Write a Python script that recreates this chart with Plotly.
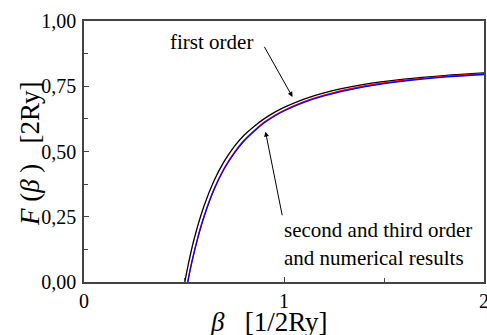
import plotly.graph_objects as go

# values
beta_first = [0.504, 0.52, 0.55, 0.60, 0.65, 0.70, 0.75, 0.80, 0.85, 0.90, 0.95, 1.00, 1.10, 1.20, 1.40, 1.60, 1.80, 2.00]
f_first = [0.000, 0.062, 0.163, 0.291, 0.388, 0.461, 0.518, 0.562, 0.596, 0.625, 0.649, 0.669, 0.701, 0.725, 0.757, 0.777, 0.791, 0.801]

beta_second = [0.518, 0.54, 0.57, 0.60, 0.65, 0.70, 0.75, 0.80, 0.85, 0.90, 0.95, 1.00, 1.10, 1.20, 1.40, 1.60, 1.80, 2.00]
f_second = [0.000, 0.081, 0.174, 0.252, 0.356, 0.435, 0.495, 0.543, 0.580, 0.612, 0.637, 0.658, 0.691, 0.716, 0.751, 0.773, 0.788, 0.798]

beta_third = [0.519, 0.54, 0.57, 0.60, 0.65, 0.70, 0.75, 0.80, 0.85, 0.90, 0.95, 1.00, 1.10, 1.20, 1.40, 1.60, 1.80, 2.00]
f_third = [0.000, 0.078, 0.171, 0.249, 0.353, 0.432, 0.492, 0.540, 0.577, 0.609, 0.634, 0.655, 0.688, 0.713, 0.748, 0.770, 0.785, 0.795]

y_ticks = [0.0, 0.25, 0.5, 0.75, 1.0]
y_labels = ["0,00", "0,25", "0,50", "0,75", "1,00"]
x_ticks = [0, 1, 2]
x_labels = ["0", "1", "2"]

serif = "Liberation Serif"

fig = go.Figure()
fig.add_trace(go.Scatter(x=beta_first, y=f_first, mode="lines", line=dict(color="black", width=1.3, shape="spline"),
                         showlegend=False, hoverinfo="skip"))
fig.add_trace(go.Scatter(x=beta_second, y=f_second, mode="lines", line=dict(color="#ff0000", width=1.3, shape="spline"),
                         showlegend=False, hoverinfo="skip"))
fig.add_trace(go.Scatter(x=beta_third, y=f_third, mode="lines", line=dict(color="#0000ff", width=1.3, shape="spline"),
                         showlegend=False, hoverinfo="skip"))

axis_common = dict(
    showgrid=False, zeroline=False, showline=True, linecolor="#444444", linewidth=1.5, mirror=True,
    ticks="inside", ticklen=5, tickwidth=1, tickcolor="#444444", automargin=False,
    ticklabeloverflow="allow",
    tickfont=dict(family=serif, size=20, color="black"),
    minor=dict(ticks="inside", ticklen=4, tickwidth=1, tickcolor="#444444"),
)

fig.update_xaxes(range=[0, 2], tickvals=x_ticks, ticktext=x_labels,
                 minor_tickvals=[0.5, 1.5], ticklabelstandoff=0, **axis_common)
fig.update_yaxes(range=[0, 1], tickvals=y_ticks, ticktext=y_labels,
                 minor_tickvals=[0.125, 0.375, 0.625, 0.875], ticklabelstandoff=2, **axis_common)

title_font = dict(family=serif, size=27, color="black")
fig.add_annotation(xref="paper", yref="paper", x=0.4625, y=-0.155, yanchor="middle", showarrow=False,
                   text="<i>β</i>&nbsp;&nbsp;&nbsp;[1/2Ry]", font=title_font)
fig.add_annotation(xref="paper", yref="paper", x=-0.135, y=0.49, xanchor="center", yanchor="middle",
                   showarrow=False, textangle=-90,
                   text="<i>F</i>&nbsp;(<i>β</i>&nbsp;)&nbsp;&nbsp;&nbsp;[2Ry]", font=title_font)

ann_font = dict(family=serif, size=21, color="black")
fig.add_annotation(x=0.635, y=0.921, text="first order", showarrow=False, font=ann_font)
fig.add_annotation(x=1.0425, y=0.709, ax=0.8975, ay=0.907, axref="x", ayref="y", xref="x", yref="y",
                   text="", showarrow=True, arrowhead=2, arrowsize=1, arrowwidth=1, arrowcolor="black")
fig.add_annotation(x=0.988, y=0.200, text="second and third order", showarrow=False, font=ann_font,
                   xanchor="left")
fig.add_annotation(x=0.988, y=0.093, text="and numerical results", showarrow=False, font=ann_font,
                   xanchor="left")
fig.add_annotation(x=0.9075, y=0.576, ax=0.9925, ay=0.250, axref="x", ayref="y", xref="x", yref="y",
                   text="", showarrow=True, arrowhead=2, arrowsize=1, arrowwidth=1, arrowcolor="black")

fig.update_layout(
    width=487, height=335,
    margin=dict(l=84, r=3, t=21, b=53),
    paper_bgcolor="white", plot_bgcolor="white",
)

# the page's default body margin would push the fixed-size figure out of the window
fig.write_html("out.html", config={"displayModeBar": False},
               post_script="document.body.style.margin='0';")
